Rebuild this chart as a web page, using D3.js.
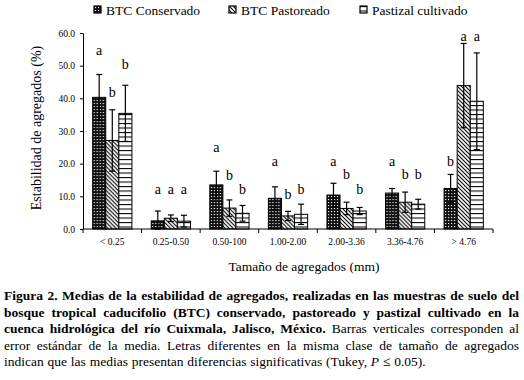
<!DOCTYPE html>
<html>
<head>
<meta charset="UTF-8">
<script src="https://d3js.org/d3.v7.min.js"></script>
<style>
  body { margin: 0; background: #fff; }
  svg { display: block; }
  text { font-family: "Liberation Serif", "Times New Roman", serif; fill: #000; }
</style>
</head>
<body>
<svg id="canvas"></svg>
<script>
// categories (aggregate size class) and series
categories = ["< 0.25", "0.25-0.50", "0.50-100", "1.00-2.00", "2.00-3.36", "3.36-4.76", "> 4.76"];
seriesNames = ["BTC Conservado", "BTC Pastoreado", "Pastizal cultivado"];

conservado    = [40.3, 2.5, 13.5, 9.4, 10.4, 11.0, 12.4];
conservadoErr = [7.0, 3.0, 4.2, 3.5, 3.6, 1.4, 4.3];
pastoreado    = [27.1, 3.3, 6.4, 4.0, 6.3, 8.2, 43.9];
pastoreadoErr = [9.4, 1.0, 2.5, 1.4, 1.9, 3.1, 12.9];
pastizal      = [35.4, 2.4, 4.8, 4.5, 5.5, 7.6, 39.1];
pastizalErr   = [8.6, 1.8, 2.4, 3.1, 1.1, 1.5, 14.8];

// Tukey letters and the level (in %) where each one sits
conservadoLetters = ["a", "a", "a", "a", "a", "a", "b"];
pastoreadoLetters = ["b", "a", "b", "b", "b", "b", "a"];
pastizalLetters   = ["b", "a", "b", "b", "b", "b", "a"];
conservadoLetterY = [54.2, 11.9, 24.5, 20.5, 20.5, 20.5, 20.5];
pastoreadoLetterY = [41.6, 11.9, 16.2, 10.4, 16.3, 16.3, 58.6];
pastizalLetterY   = [49.9, 11.9, 11.9, 11.9, 11.9, 16.3, 58.6];

yTicks = [0, 10, 20, 30, 40, 50, 60];

width = 524;
height = 380;
margin = {left: 83, top: 33, right: 31, bottom: 151};
plotW = width - margin.left - margin.right;
plotH = height - margin.top - margin.bottom;
serif = "'Liberation Serif', 'Times New Roman', serif";

series = [
  {name: seriesNames[0], vals: conservado, err: conservadoErr, letters: conservadoLetters, ly: conservadoLetterY, fill: "url(#pCons)"},
  {name: seriesNames[1], vals: pastoreado, err: pastoreadoErr, letters: pastoreadoLetters, ly: pastoreadoLetterY, fill: "url(#pPast)"},
  {name: seriesNames[2], vals: pastizal, err: pastizalErr, letters: pastizalLetters, ly: pastizalLetterY, fill: "url(#pPz)"}
];

svg = d3.select("#canvas").attr("width", width).attr("height", height)
  .attr("font-family", serif);

// fill patterns
defs = svg.append("defs");
pc = defs.append("pattern").attr("id", "pCons").attr("patternUnits", "userSpaceOnUse")
  .attr("width", 3).attr("height", 3);
pc.append("rect").attr("width", 3).attr("height", 3).attr("fill", "#111");
pc.append("rect").attr("x", 1).attr("y", 1).attr("width", 1.1).attr("height", 1.1).attr("fill", "#fff");

pp = defs.append("pattern").attr("id", "pPast").attr("patternUnits", "userSpaceOnUse")
  .attr("width", 4).attr("height", 4);
pp.append("rect").attr("width", 4).attr("height", 4).attr("fill", "#fff");
pp.append("path").attr("d", "M-1,-1 L5,5 M-1,3 L1,5 M3,-1 L5,1")
  .attr("stroke", "#000").attr("stroke-width", 1.1);

pz = defs.append("pattern").attr("id", "pPz").attr("patternUnits", "userSpaceOnUse")
  .attr("width", 4).attr("height", 4.5);
pz.append("rect").attr("width", 4).attr("height", 4.5).attr("fill", "#fff");
pz.append("path").attr("d", "M0,0.5 L4,0.5").attr("stroke", "#000").attr("stroke-width", 1.1);

chart = svg.append("g").attr("transform", "translate(" + margin.left + "," + margin.top + ")");

x0 = d3.scaleBand().domain(categories).range([0, plotW]).paddingInner(0.33).paddingOuter(0.165);
x1 = d3.scaleBand().domain(seriesNames).range([0, x0.bandwidth()]);
y = d3.scaleLinear().domain([0, 60]).range([plotH, 0]);

// y axis
yAxis = chart.append("g").call(d3.axisLeft(y).tickValues(yTicks).tickFormat(d3.format(".1f")).tickSize(3).tickSizeOuter(0));
yAxis.attr("font-family", serif);
yAxis.selectAll("text").attr("font-size", 9.5).attr("dx", -2);
yAxis.select(".domain").attr("stroke-width", 1);

// bars
groups = chart.selectAll(".grp").data(categories).enter().append("g")
  .attr("transform", d => "translate(" + x0(d) + ",0)");

series.forEach(s => {
  groups.append("rect")
    .attr("x", d => x1(s.name))
    .attr("y", (d, i) => y(s.vals[i]))
    .attr("width", x1.bandwidth())
    .attr("height", (d, i) => plotH - y(s.vals[i]))
    .attr("fill", s.fill)
    .attr("stroke", "#000").attr("stroke-width", 1);
});

// error bars
series.forEach(s => {
  var cx = x1(s.name) + x1.bandwidth() / 2;
  groups.append("line")
    .attr("x1", cx).attr("x2", cx)
    .attr("y1", (d, i) => y(s.vals[i] + s.err[i]))
    .attr("y2", (d, i) => y(Math.max(0, s.vals[i] - s.err[i])))
    .attr("stroke", "#000").attr("stroke-width", 1.2);
  [1, -1].forEach(sg => {
    groups.append("line")
      .attr("x1", cx - 3).attr("x2", cx + 3)
      .attr("y1", (d, i) => y(Math.max(0, s.vals[i] + sg * s.err[i])))
      .attr("y2", (d, i) => y(Math.max(0, s.vals[i] + sg * s.err[i])))
      .attr("stroke", "#000").attr("stroke-width", 1.2);
  });
  groups.append("text")
    .attr("x", cx)
    .attr("y", (d, i) => y(s.ly[i]) + 3.5)
    .attr("text-anchor", "middle")
    .attr("font-size", 14)
    .text((d, i) => s.letters[i]);
});

// x axis with ticks at category boundaries
xAxisG = chart.append("g").attr("transform", "translate(0," + plotH + ")");
xAxisG.append("line").attr("x1", 0).attr("x2", plotW).attr("stroke", "#000");
bounds = d3.range(categories.length + 1).map(i => i * plotW / categories.length);
xAxisG.selectAll(".tk").data(bounds).enter().append("line")
  .attr("x1", d => d).attr("x2", d => d).attr("y1", 0).attr("y2", 4).attr("stroke", "#000");
xAxisG.selectAll(".lb").data(categories).enter().append("text")
  .attr("x", d => x0(d) + x0.bandwidth() / 2)
  .attr("y", 16)
  .attr("text-anchor", "middle")
  .attr("font-size", 9.5)
  .text(d => d);

// axis titles
svg.append("text")
  .attr("transform", "translate(41," + (margin.top + 95) + ") rotate(-90)")
  .attr("text-anchor", "middle").attr("font-size", 14)
  .text("Estabilidad de agregados (%)");
svg.append("text")
  .attr("x", 304).attr("y", 271)
  .attr("text-anchor", "middle").attr("font-size", 13.5)
  .text("Tamaño de agregados (mm)");

// legend
legendX = [94, 229, 360];
legend = svg.selectAll(".leg").data(series).enter().append("g")
  .attr("transform", (d, i) => "translate(" + legendX[i] + ",6)");
legend.append("rect").attr("width", 7).attr("height", 7)
  .attr("fill", d => d.fill).attr("stroke", "#000").attr("stroke-width", 1.2);
legend.append("text").attr("x", 12).attr("y", 8.5).attr("font-size", 13.5).text(d => d.name);

// caption, justified
captionLines = [
  [["Figura 2. Medias de la estabilidad de agregados, realizadas en las muestras de suelo del", "bold"]],
  [["bosque tropical caducifolio (BTC) conservado, pastoreado y pastizal cultivado en la", "bold"]],
  [["cuenca hidrológica del río Cuixmala, Jalisco, México.", "bold"], ["Barras verticales corresponden al", "normal"]],
  [["error estándar de la media. Letras diferentes en la misma clase de tamaño de agregados", "normal"]],
  [["indican que las medias presentan diferencias significativas (Tukey,", "normal"], ["P", "italic"], ["≤ 0.05).", "normal"]]
];
capLeft = 4, capRight = 519, capTop = 300, capLead = 16.6;
cap = svg.append("g");
captionLines.forEach((segs, li) => {
  var words = [];
  segs.forEach(sg => sg[0].split(" ").forEach(w => words.push({t: w, s: sg[1]})));
  words.forEach(w => {
    w.el = cap.append("text").attr("y", capTop + li * capLead).attr("font-size", 13.5)
      .attr("font-weight", w.s == "bold" ? "bold" : "normal")
      .attr("font-style", w.s == "italic" ? "italic" : "normal")
      .text(w.t);
    w.len = w.el.node().getComputedTextLength();
  });
  var total = d3.sum(words, w => w.len);
  var gap = li < captionLines.length - 1 ? (capRight - capLeft - total) / (words.length - 1) : 3.8;
  var cx = capLeft;
  words.forEach(w => { w.el.attr("x", cx); cx += w.len + gap; });
});
</script>
</body>
</html>
